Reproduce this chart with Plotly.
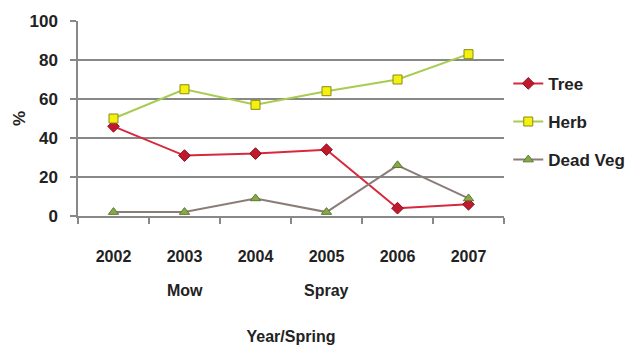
import plotly.graph_objects as go

years = ["2002", "2003", "2004", "2005", "2006", "2007"]
treatments = {"2003": "Mow", "2005": "Spray"}
tree = [46, 31, 32, 34, 4, 6]
herb = [50, 65, 57, 64, 70, 83]
dead_veg = [2, 2, 9, 2, 26, 9]

FONT = "Liberation Sans Narrow, Liberation Sans, Arial Narrow, Arial, sans-serif"
TXT = "#222222"

# Categories sit at integer positions; tick marks go on the boundaries.
xpos = list(range(len(years)))
bounds = [i - 0.5 for i in range(len(years) + 1)]

fig = go.Figure()
fig.add_trace(go.Scatter(
    x=xpos, y=tree, name="Tree", mode="lines+markers", legendgroup="a",
    line=dict(color="#d8283c", width=2),
    marker=dict(symbol="diamond", size=9, color="#c0182c",
                line=dict(color="#8a1020", width=1)),
))
fig.add_trace(go.Scatter(
    x=xpos, y=herb, name="Herb", mode="lines+markers", legendgroup="b",
    line=dict(color="#a8cc50", width=2),
    marker=dict(symbol="square", size=9, color="#f4f010",
                line=dict(color="#8a8a10", width=1)),
))
fig.add_trace(go.Scatter(
    x=xpos, y=dead_veg, name="Dead Veg", mode="lines+markers", legendgroup="c",
    line=dict(color="#8c7c78", width=2),
    marker=dict(symbol="triangle-up", size=9, color="#88a848",
                line=dict(color="#5a7a30", width=1)),
))

for yr, label in treatments.items():
    fig.add_annotation(x=years.index(yr), xref="x", y=-0.38, yref="paper",
                       text=label, showarrow=False, yanchor="middle",
                       font=dict(family=FONT, size=16, color=TXT, weight="bold"))

fig.update_layout(
    width=633, height=350,
    margin=dict(l=78, r=129, t=21, b=134, autoexpand=False),
    paper_bgcolor="white", plot_bgcolor="white",
    font=dict(family=FONT, size=16, color=TXT, weight="bold"),
    showlegend=True,
    legend=dict(x=1.01, y=0.77, xanchor="left", yanchor="top",
                tracegroupgap=13,
                font=dict(family=FONT, size=17, color=TXT, weight="bold"),
                bgcolor="rgba(0,0,0,0)"),
    xaxis=dict(
        range=[-0.5, len(years) - 0.5], automargin=False,
        tickmode="array", tickvals=xpos, ticktext=years, ticks="",
        ticklabelstandoff=25,
        minor=dict(tickmode="array", tickvals=bounds, ticks="outside",
                   ticklen=6, tickcolor="#888888", tickwidth=1.5, showgrid=False),
        showline=True, linecolor="#888888", linewidth=1.5,
        showgrid=False, zeroline=False,
        tickfont=dict(family=FONT, size=16, weight="bold"),
        title=dict(text="Year/Spring", standoff=67,
                   font=dict(family=FONT, size=16, weight="bold")),
    ),
    yaxis=dict(
        range=[0, 100], tickvals=[0, 20, 40, 60, 80, 100], automargin=False,
        ticks="outside", ticklen=6, tickcolor="#888888", tickwidth=1.5,
        ticklabelstandoff=9,
        showline=True, linecolor="#888888", linewidth=1.5,
        showgrid=True, gridcolor="#888888", gridwidth=1.5,
        zeroline=False, tickfont=dict(family=FONT, size=17, weight="bold"),
        title=dict(text="%", standoff=0,
                   font=dict(family=FONT, size=17, weight="bold")),
    ),
)

fig.write_html("out.html")
